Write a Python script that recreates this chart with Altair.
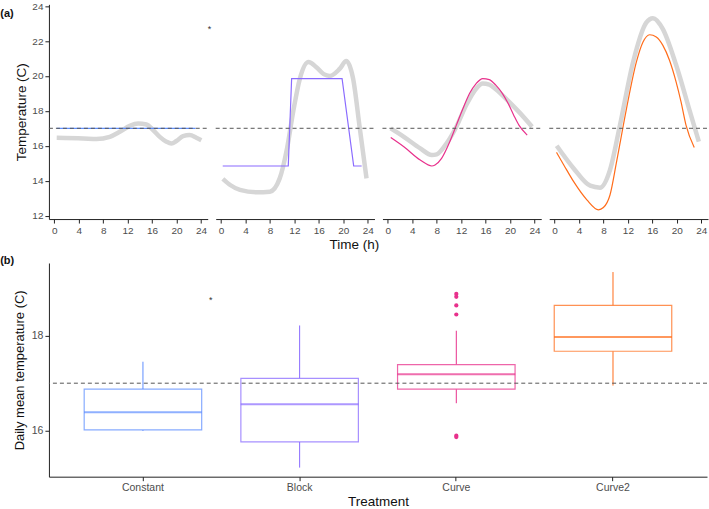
import altair as alt
import pandas as pd

FONT = "Liberation Sans"
TARGET = 17

# ---- (a) hourly temperature profiles -------------------------------------
treatments = ["Constant", "Block", "Curve", "Curve2"]
colors = ["#5f8fff", "#8a6bff", "#e8318c", "#ff6c1a"]

# smoothed measured temperature (grey band)
smooth_hour = {
    "Constant": [0.4, 4.74, 6.91, 9.09, 10.72, 12.36, 13.72, 15.08, 16.17, 17.26, 18.35, 19.16, 19.98, 21.07, 22.15, 23.24, 24.06],
    "Block": [0.3, 1.5, 3.1, 5.8, 8.0, 9.6, 10.8, 11.8, 12.9, 14.3, 15.6, 16.8, 17.8, 19.4, 20.5, 21.6, 22.7, 23.8],
    "Curve": [0.48, 2.63, 5.31, 7.2, 8.0, 9.6, 11.22, 12.84, 14.45, 15.53, 16.6, 17.67, 19.56, 21.45, 23.6],
    "Curve2": [0.35, 3.13, 5.83, 7.45, 9.07, 10.7, 12.85, 15.0, 16.1, 17.7, 19.9, 22.0, 23.6],
}
smooth_temp = {
    "Constant": [16.46, 16.42, 16.38, 16.51, 16.8, 17.14, 17.27, 17.22, 16.9, 16.51, 16.23, 16.13, 16.27, 16.55, 16.61, 16.46, 16.32],
    "Block": [14.1, 13.75, 13.47, 13.33, 13.37, 14.13, 15.85, 17.94, 19.85, 20.8, 20.5, 20.1, 20.0, 20.4, 20.85, 19.85, 17.0, 14.13],
    "Curve": [16.99, 16.51, 15.85, 15.47, 15.51, 16.13, 17.09, 18.33, 19.27, 19.56, 19.5, 19.24, 18.61, 17.94, 17.09],
    "Curve2": [16.0, 14.7, 13.71, 13.6, 14.61, 17.18, 20.8, 23.05, 23.31, 22.7, 20.61, 18.13, 16.23],
}

# programmed set-point temperature (coloured line)
program_hour = {
    "Constant": [0.4, 23.1],
    "Block": [0.28, 11.0, 11.55, 19.8, 21.7, 23.0],
    "Curve": [0.48, 2.63, 5.31, 7.2, 7.73, 8.8, 10.14, 11.22, 12.3, 13.37, 14.45, 15.53, 16.6, 17.67, 18.76, 19.56, 20.6, 21.45, 22.8],
    "Curve2": [0.32, 1.51, 3.13, 5.29, 7.18, 7.99, 9.07, 10.15, 11.77, 13.39, 14.47, 15.56, 16.64, 17.72, 18.8, 19.88, 20.69, 21.5, 22.85],
}
program_temp = {
    "Constant": [17.0, 17.0],
    "Block": [14.84, 14.84, 19.85, 19.85, 14.84, 14.84],
    "Curve": [16.47, 15.94, 15.18, 14.84, 14.9, 15.28, 16.23, 17.18, 18.13, 18.99, 19.56, 19.85, 19.79, 19.47, 18.99, 18.51, 17.75, 17.18, 16.61],
    "Curve2": [15.62, 14.9, 13.94, 12.9, 12.33, 12.46, 13.18, 15.09, 18.13, 20.8, 21.94, 22.36, 22.23, 21.75, 20.9, 19.66, 18.51, 17.18, 15.9],
}

# ---- (b) daily mean temperature boxplots -----------------------------------
box_lower = [16.0, 15.23, 16.58, 16.95]
box_q1 = [16.02, 15.77, 16.875, 17.67]
box_median = [16.39, 16.56, 17.19, 17.97]
box_q3 = [16.875, 17.10, 17.39, 18.63]
box_upper = [17.45, 18.21, 18.10, 19.33]
outlier_group = ["Curve", "Curve", "Curve", "Curve", "Curve", "Curve"]
outlier_value = [18.87, 18.81, 18.63, 18.44, 15.90, 15.87]

PANEL_W = 159
PANEL_H = 215
BOX_W = 659
BOX_H = 214

tick_label_color = "#4d4d4d"

x_time = alt.Scale(domain=[-0.87, 25.1], nice=False, zero=False)
y_temp = alt.Scale(domain=[11.8, 24.1], nice=False, zero=False)

time_axis = alt.Axis(values=[0, 4, 8, 12, 16, 20, 24], title=None, grid=False,
                     domainColor="#222", tickColor="#222", tickSize=4,
                     labelColor=tick_label_color, labelFontSize=10, labelFont=FONT,
                     labelPadding=2)
temp_axis = alt.Axis(values=[12, 14, 16, 18, 20, 22, 24], title="Temperature (C)",
                     grid=False, domainColor="#222", tickColor="#222", tickSize=4,
                     labelColor=tick_label_color, labelFontSize=10, labelFont=FONT,
                     titleFont=FONT, titleFontSize=13.5, titleFontWeight="normal",
                     titleColor="#111", titlePadding=3, labelPadding=2)

panels = []
for i, name in enumerate(treatments):
    sm = pd.DataFrame({"hour": smooth_hour[name], "temp": smooth_temp[name]})
    pr = pd.DataFrame({"hour": program_hour[name], "temp": program_temp[name]})
    ref = pd.DataFrame({"x0": [-0.87], "x1": [25.1], "temp": [TARGET]})

    xe = alt.X("hour:Q", scale=x_time, axis=time_axis)
    ye = alt.Y("temp:Q", scale=y_temp, axis=temp_axis if i == 0 else None)

    grey = alt.Chart(sm).mark_line(color="#d6d6d6", strokeWidth=4.5, interpolate="monotone",
                                   strokeCap="butt").encode(x=xe, y=ye)
    prog = alt.Chart(pr).mark_line(color=colors[i], strokeWidth=1.2,
                                   interpolate="linear" if name in ("Block", "Constant") else "monotone"
                                   ).encode(x=xe, y=ye)
    dash = alt.Chart(ref).mark_rule(color="#555555", strokeDash=[4, 3], strokeWidth=1).encode(
        x=alt.X("x0:Q", scale=x_time, axis=time_axis), x2="x1:Q",
        y=alt.Y("temp:Q", scale=y_temp, axis=temp_axis if i == 0 else None),
    )
    layers = [grey, prog, dash]
    if i == 0:
        # panel tag and the small asterisk beside the first panel
        tag = alt.Chart(pd.DataFrame({"hour": [-7.73], "temp": [23.53], "t": ["(a)"]})).mark_text(
            font=FONT, color="#111", fontSize=11, fontWeight="bold").encode(x=xe, y=ye, text="t:N")
        star = alt.Chart(pd.DataFrame({"hour": [25.4], "temp": [22.7], "t": ["*"]})).mark_text(
            font=FONT, color="#333", fontSize=9).encode(x=xe, y=ye, text="t:N")
        layers += [tag, star]
    panel = alt.layer(*layers).properties(width=PANEL_W, height=PANEL_H)
    panels.append(panel)

top = alt.hconcat(*panels, spacing=8, bounds="flush").properties(
    title=alt.TitleParams("Time (h)", orient="bottom", anchor="middle", offset=3,
                          fontSize=13.5, fontWeight="normal", font=FONT, color="#111"))

# ---- boxplot panel ----------------------------------------------------------
box_df = pd.DataFrame({
    "treatment": treatments, "lower": box_lower, "q1": box_q1, "median": box_median,
    "q3": box_q3, "upper": box_upper,
})
out_df = pd.DataFrame({"treatment": outlier_group, "value": outlier_value})

x_cat = alt.Scale(domain=treatments, paddingInner=0.25, paddingOuter=0.225)
y_mean = alt.Scale(domain=[15.04, 19.52], nice=False, zero=False)
col_scale = alt.Scale(domain=treatments, range=colors)

cat_axis = alt.Axis(title="Treatment", labelAngle=0, domainColor="#222", tickColor="#222",
                    tickSize=4, labelColor=tick_label_color, labelFontSize=10.5,
                    labelFont=FONT, titleFont=FONT, titleFontSize=13.5,
                    titleFontWeight="normal", titleColor="#111", titlePadding=1,
                    labelPadding=2)
mean_axis = alt.Axis(values=[16, 18], title="Daily mean temperature (C)", grid=False,
                     domainColor="#222", tickColor="#222", tickSize=4,
                     labelColor=tick_label_color, labelFontSize=10.5, labelFont=FONT,
                     titleFont=FONT, titleFontSize=13, titleFontWeight="normal",
                     titleColor="#111", titlePadding=5, labelPadding=2)
xb = alt.X("treatment:N", scale=x_cat, sort=treatments, axis=cat_axis)
col = alt.Color("treatment:N", scale=col_scale, legend=None)

whisk_lo = alt.Chart(box_df).mark_rule(strokeWidth=1).encode(
    x=xb, y=alt.Y("lower:Q", scale=y_mean, axis=mean_axis), y2="q1:Q", color=col)
whisk_hi = alt.Chart(box_df).mark_rule(strokeWidth=1).encode(
    x=xb, y=alt.Y("q3:Q", scale=y_mean, axis=mean_axis), y2="upper:Q", color=col)
boxes = alt.Chart(box_df).mark_bar(fill="white", strokeWidth=1.2, strokeOpacity=0.75).encode(
    x=xb, y=alt.Y("q1:Q", scale=y_mean, axis=mean_axis), y2="q3:Q",
    stroke=alt.Stroke("treatment:N", scale=col_scale, legend=None))
medians = alt.Chart(box_df).mark_tick(thickness=2, size=118, orient="horizontal").encode(
    x=xb, y=alt.Y("median:Q", scale=y_mean, axis=mean_axis), color=col)
outliers = alt.Chart(out_df).mark_circle(size=18, opacity=1).encode(
    x=xb, y=alt.Y("value:Q", scale=y_mean, axis=mean_axis), color=col)
target = alt.Chart(pd.DataFrame({"v": [TARGET]})).mark_rule(
    color="#555555", strokeDash=[4, 3], strokeWidth=1).encode(
    y=alt.Y("v:Q", scale=y_mean, axis=mean_axis))
star_b = alt.Chart(pd.DataFrame({"treatment": ["Constant"], "v": [18.75], "t": ["*"]})).mark_text(
    fontSize=9, font=FONT, color="#333", dx=68).encode(
    x=xb, y=alt.Y("v:Q", scale=y_mean, axis=mean_axis), text="t:N")
tag_b = alt.Chart(pd.DataFrame({"treatment": ["Constant"], "v": [19.56], "t": ["(b)"]})).mark_text(
    fontSize=11, font=FONT, color="#111", fontWeight="bold", dx=-136).encode(
    x=xb, y=alt.Y("v:Q", scale=y_mean, axis=mean_axis), text="t:N")

bottom = alt.layer(whisk_lo, whisk_hi, boxes, medians, outliers, target, star_b, tag_b).properties(
    width=BOX_W, height=BOX_H)

chart = alt.vconcat(top, bottom, spacing=3).properties(
    padding={"left": 0, "top": 0, "right": 0, "bottom": 0},
    background="white",
).configure_view(stroke=None).configure_axis(labelOverlap=False, labelFlush=False)

chart.save("out.html", embed_options={"renderer": "svg", "actions": False})
